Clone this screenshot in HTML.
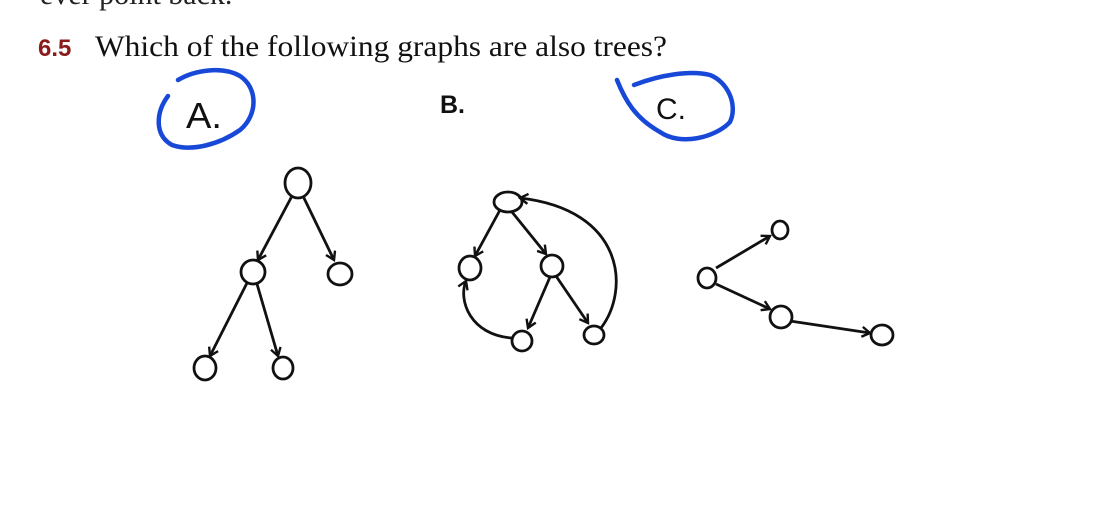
<!DOCTYPE html>
<html><head><meta charset="utf-8"><style>
html,body{margin:0;padding:0;background:#fff;width:1107px;height:508px;overflow:hidden}
svg{display:block}
</style></head><body>
<svg width="1107" height="508" viewBox="0 0 1107 508">
<text x="40" y="4" font-family="Liberation Serif, serif" font-size="30" fill="#222">ever point back.</text>
<text x="38" y="56" font-family="Liberation Sans, sans-serif" font-weight="bold" font-size="24" fill="#8b1c1c">6.5</text>
<text x="95" y="56" font-family="Liberation Serif, serif" font-size="30" fill="#111" textLength="572" lengthAdjust="spacingAndGlyphs">Which of the following graphs are also trees?</text>
<g font-family="Liberation Sans, sans-serif" fill="#111">
<text x="186" y="128" font-size="36" textLength="36" lengthAdjust="spacingAndGlyphs">A.</text>
<text x="440" y="113" font-size="25" font-weight="bold">B.</text>
<text x="656" y="119" font-size="30">C.</text>
</g>
<g fill="none" stroke="#1848d8" stroke-width="4.5" stroke-linecap="round">
<path d="M168 96 C156 112,154 135,172 145 C192 152,220 144,240 130 C258 115,258 88,240 76 C222 66,195 70,178 80"/>
<path d="M617 80 C625 100,635 118,660 132 C680 146,715 138,730 122 C738 105,728 82,710 75 C690 70,660 75,634 85"/>
</g>
<defs><marker id="ar" markerWidth="12" markerHeight="12" refX="10" refY="6" orient="auto" markerUnits="userSpaceOnUse"><path d="M2 1 L10 6 L2 11" fill="none" stroke="#111" stroke-width="2.4"/></marker></defs>
<g stroke="#111" stroke-width="2.8" fill="none">
<g>
<line x1="292" y1="196" x2="258" y2="260" marker-end="url(#ar)"/>
<line x1="303" y1="196" x2="334" y2="260" marker-end="url(#ar)"/>
<line x1="247" y1="283" x2="210" y2="356" marker-end="url(#ar)"/>
<line x1="257" y1="284" x2="278" y2="356" marker-end="url(#ar)"/>
<ellipse cx="298" cy="183" rx="13" ry="15"/>
<ellipse cx="253" cy="272" rx="12" ry="12"/>
<ellipse cx="340" cy="274" rx="12" ry="11"/>
<ellipse cx="205" cy="368" rx="11" ry="12"/>
<ellipse cx="283" cy="368" rx="10" ry="11"/>
</g>
<g>
<line x1="500" y1="210" x2="475" y2="256" marker-end="url(#ar)"/>
<line x1="512" y1="212" x2="546" y2="254" marker-end="url(#ar)"/>
<line x1="550" y1="277" x2="528" y2="328" marker-end="url(#ar)"/>
<line x1="556" y1="276" x2="588" y2="323" marker-end="url(#ar)"/>
<path d="M512 338 C470 335,458 300,466 281" marker-end="url(#ar)"/>
<path d="M601 328 C630 290,625 210,520 198" marker-end="url(#ar)"/>
<ellipse cx="508" cy="202" rx="14" ry="10"/>
<ellipse cx="470" cy="268" rx="11" ry="12"/>
<ellipse cx="552" cy="266" rx="11" ry="11"/>
<ellipse cx="522" cy="341" rx="10" ry="10"/>
<ellipse cx="594" cy="335" rx="10" ry="9"/>
</g>
<g>
<line x1="716" y1="268" x2="770" y2="236" marker-end="url(#ar)"/>
<line x1="716" y1="284" x2="770" y2="309" marker-end="url(#ar)"/>
<line x1="790" y1="321" x2="870" y2="333" marker-end="url(#ar)"/>
<ellipse cx="707" cy="278" rx="9" ry="10"/>
<ellipse cx="780" cy="230" rx="8" ry="9"/>
<ellipse cx="781" cy="317" rx="11" ry="11"/>
<ellipse cx="882" cy="335" rx="11" ry="10"/>
</g>
</g>
</svg>
</body></html>
